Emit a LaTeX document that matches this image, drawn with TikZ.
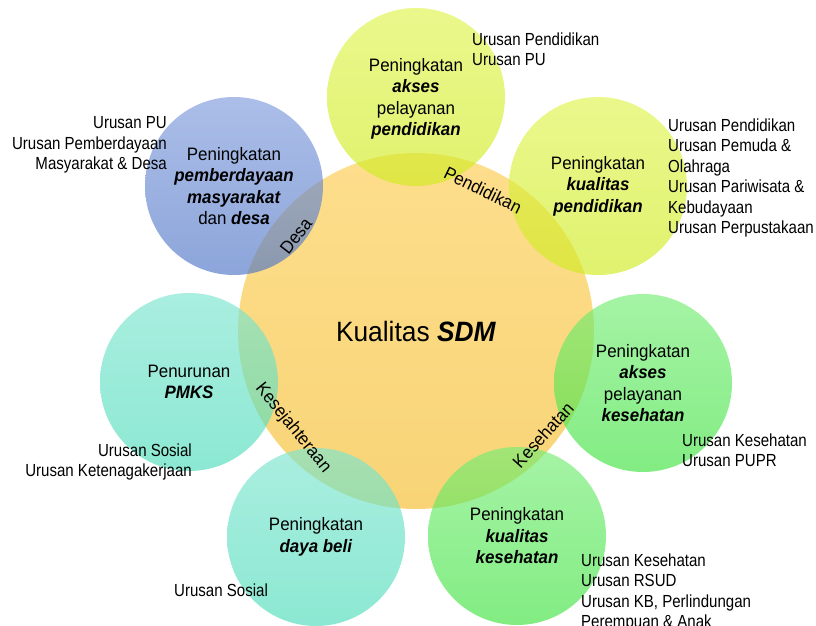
\documentclass[tikz,border=0pt]{standalone}
\usepackage{fontspec}
\setmainfont{Liberation Sans}[FakeStretch=0.94]
\newfontfamily\urusanfont{Liberation Sans}[FakeStretch=0.86]

% circle fills (top / bottom of the vertical gradient)
\definecolor{sdmtop}{RGB}{253,222,140}
\definecolor{sdmbot}{RGB}{248,212,118}
\definecolor{ygtop}{RGB}{223,244,78}
\definecolor{ygbot}{RGB}{207,235,32}
\definecolor{grtop}{RGB}{117,237,117}
\definecolor{grbot}{RGB}{63,226,63}
\definecolor{tltop}{RGB}{124,229,207}
\definecolor{tlbot}{RGB}{78,220,186}
\definecolor{bltop}{RGB}{127,155,220}
\definecolor{blbot}{RGB}{78,117,198}

\begin{document}
\begin{tikzpicture}[x=1pt,y=-1pt,
  goal/.style={circle, minimum size=178pt, inner sep=0pt, align=center,
    fill opacity=0.65, text opacity=1, font=\fontsize{18}{21.5}\selectfont},
  yellowgoal/.style={goal, top color=ygtop, bottom color=ygbot},
  greengoal/.style={goal, top color=grtop, bottom color=grbot},
  tealgoal/.style={goal, top color=tltop, bottom color=tlbot},
  bluegoal/.style={goal, top color=bltop, bottom color=blbot},
  urusan/.style={inner sep=0pt, font=\urusanfont\fontsize{17.5}{20.5}\selectfont},
  arclabel/.style={inner sep=0pt, font=\fontsize{18}{21.5}\selectfont}
]
\useasboundingbox (0,0) rectangle (816,626);

% central circle
\node[circle, minimum size=356pt, inner sep=0pt, top color=sdmtop, bottom color=sdmbot,
  font=\fontsize{28}{32}\selectfont] (sdm) at (416,331) {Kualitas \textbf{\textit{SDM}}};

% surrounding goal circles
\node[yellowgoal, text depth=-3pt] (aksespend) at (416,97)
  {Peningkatan\\\textbf{\textit{akses}}\\pelayanan\\\textbf{\textit{pendidikan}}};
\node[yellowgoal] (kualpend) at (598,186)
  {Peningkatan\\\textbf{\textit{kualitas}}\\\textbf{\textit{pendidikan}}};
\node[greengoal] (akseskes) at (643,383)
  {Peningkatan\\\textbf{\textit{akses}}\\pelayanan\\\textbf{\textit{kesehatan}}};
\node[greengoal] (kualkes) at (517,536)
  {Peningkatan\\\textbf{\textit{kualitas}}\\\textbf{\textit{kesehatan}}};
\node[tealgoal] (dayabeli) at (316,537)
  {Peningkatan\\\textbf{\textit{daya beli}}};
\node[tealgoal] (pmks) at (189,382)
  {Penurunan\\\textbf{\textit{PMKS}}};
\node[bluegoal] (desa) at (234,186)
  {Peningkatan\\\textbf{\textit{pemberdayaan}}\\\textbf{\textit{masyarakat}}\\dan \textbf{\textit{desa}}};

% sector labels along the rim of the central circle
\node[arclabel, rotate=-26] (lpend) at (483,190) {Pendidikan};
\node[arclabel, rotate=52] (ldesa) at (296,236) {Desa};
\node[arclabel, rotate=-51] (lkesej) at (293,428) {Kesejahteraan};
\node[arclabel, rotate=48] (lkes) at (543,435) {Kesehatan};

% responsible affairs
\node[urusan, anchor=north west, align=left] (u1) at (472,32.5)
  {Urusan Pendidikan\\Urusan PU};
\node[urusan, anchor=north west, align=left] (u2) at (668,118.5)
  {Urusan Pendidikan\\Urusan Pemuda \&\\Olahraga\\Urusan Pariwisata \&\\Kebudayaan\\Urusan Perpustakaan};
\node[urusan, anchor=north west, align=left] (u3) at (682,433.5)
  {Urusan Kesehatan\\Urusan PUPR};
\node[urusan, anchor=north west, align=left] (u4) at (581,553.5)
  {Urusan Kesehatan\\Urusan RSUD\\Urusan KB, Perlindungan\\Perempuan \& Anak};
\node[urusan, anchor=north west, align=left] (u5) at (174,583.5)
  {Urusan Sosial};
\node[urusan, anchor=north east, align=right] (u6) at (192,443.5)
  {Urusan Sosial\\Urusan Ketenagakerjaan};
\node[urusan, anchor=north east, align=right] (u7) at (167,116.5)
  {Urusan PU\\Urusan Pemberdayaan\\Masyarakat \& Desa};
\end{tikzpicture}
\end{document}
